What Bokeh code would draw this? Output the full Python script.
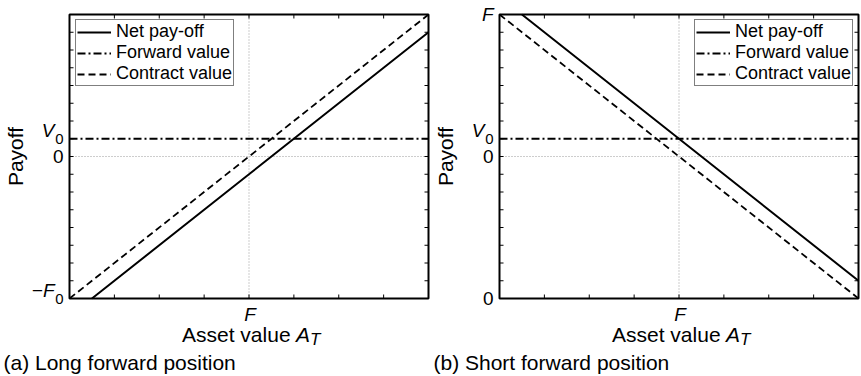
import math
from bokeh.plotting import figure
from bokeh.layouts import row
from bokeh.models import Range1d, Label, Legend, LegendItem
from bokeh.embed import file_html
from bokeh.resources import INLINE

# ---------------- data ----------------
asset_values = [0.0, 4.0, 8.0]          # asset value A_T (F sits at 4)
forward_price = 4.0                     # F on the asset axis
long_contract = [-8.0, 0.0, 8.0]
long_net = [-9.0, -1.0, 7.0]
long_forward = [1.0, 1.0, 1.0]          # V0
short_contract = [8.0, 0.0, -8.0]
short_net = [9.0, 1.0, -7.0]
short_forward = [1.0, 1.0, 1.0]
x_ticks = [0, 1, 2, 3, 4, 5, 6, 7, 8]
y_ticks = list(range(-8, 9))
x_tick_labels = [(4, "F")]
long_y_labels = [(-8, "\u2212F", "0"), (0, "0", ""), (1, "V", "0")]
short_y_labels = [(8, "F", ""), (1, "V", "0"), (0, "0", ""), (-8, "0", "")]
series_names = ["Net pay-off", "Forward value", "Contract value"]
captions = ["(a) Long forward position", "(b) Short forward position"]

FONT = "Liberation Sans"

# plot box inside each panel (pixels) and its data extent
BL, BT, BW, BH = 69, 14, 359, 284
H = 376
X0, X1, Y0, Y1 = 0.0, 8.0, -8.0, 8.0
KX = BW / (X1 - X0)      # pixels per x unit
KY = BH / (Y1 - Y0)      # pixels per y unit
TICK = 4                 # inward tick length, px


def clip_polyline(xs, ys):
    """Clip a polyline to the plot box (Liang-Barsky on each segment)."""
    out_x, out_y = [], []
    for i in range(len(xs) - 1):
        xa, ya, xb, yb = xs[i], ys[i], xs[i + 1], ys[i + 1]
        t0, t1 = 0.0, 1.0
        dx, dy = xb - xa, yb - ya
        ok = True
        for pp, qq in ((-dx, xa - X0), (dx, X1 - xa), (-dy, ya - Y0), (dy, Y1 - ya)):
            if pp == 0:
                if qq < 0:
                    ok = False
            else:
                r = qq / pp
                if pp < 0:
                    t0 = max(t0, r)
                else:
                    t1 = min(t1, r)
        if not ok or t0 > t1:
            continue
        pa = (xa + t0 * dx, ya + t0 * dy)
        pb = (xa + t1 * dx, ya + t1 * dy)
        if not out_x or (out_x[-1], out_y[-1]) != pa:
            out_x.append(pa[0]); out_y.append(pa[1])
        out_x.append(pb[0]); out_y.append(pb[1])
    return out_x, out_y


def make_panel(width, net, fwd, contract, ylabels, legend_right, caption):
    right_px = width - BL - BW
    p = figure(width=width, height=H, output_backend="svg", toolbar_location=None,
               title=None, x_axis_type=None, y_axis_type=None,
               x_range=Range1d(X0 - BL / KX, X1 + right_px / KX),
               y_range=Range1d(Y0 - (H - BT - BH) / KY, Y1 + BT / KY),
               min_border=0, min_border_left=0, min_border_right=0,
               min_border_top=0, min_border_bottom=0)
    p.outline_line_color = None
    p.background_fill_color = "white"
    p.border_fill_color = "white"

    def lab(x, y, text, size, align="left", style="normal", angle=0.0):
        p.add_layout(Label(x=x, y=y, text=text, text_align=align, text_baseline="middle",
                           angle=angle, text_font=FONT, text_font_size=size,
                           text_font_style=style, text_color="black"))

    # reference lines (dotted) at F and at zero payoff
    p.segment(x0=[forward_price], y0=[Y0], x1=[forward_price], y1=[Y1],
              line_color="#9a9a9a", line_width=1, line_dash="1 2")
    p.segment(x0=[X0], y0=[0], x1=[X1], y1=[0],
              line_color="#9a9a9a", line_width=1, line_dash="1 2")

    # series
    nx, ny = clip_polyline(asset_values, net)
    fx, fy = clip_polyline(asset_values, fwd)
    cxs, cys = clip_polyline(asset_values, contract)
    r_net = p.line(nx, ny, line_color="black", line_width=2)
    r_fwd = p.line(fx, fy, line_color="black", line_width=1.8, line_dash="8 3 2 3")
    r_con = p.line(cxs, cys, line_color="black", line_width=1.8, line_dash="7 4")

    # box and inward ticks on all four sides
    tx, ty = TICK / KX, TICK / KY
    p.segment(x0=x_ticks, y0=[Y0] * len(x_ticks), x1=x_ticks, y1=[Y0 + ty] * len(x_ticks),
              line_color="black", line_width=1)
    p.segment(x0=x_ticks, y0=[Y1] * len(x_ticks), x1=x_ticks, y1=[Y1 - ty] * len(x_ticks),
              line_color="black", line_width=1)
    p.segment(x0=[X0] * len(y_ticks), y0=y_ticks, x1=[X0 + tx] * len(y_ticks), y1=y_ticks,
              line_color="black", line_width=1)
    p.segment(x0=[X1] * len(y_ticks), y0=y_ticks, x1=[X1 - tx] * len(y_ticks), y1=y_ticks,
              line_color="black", line_width=1)
    p.quad(left=[X0], right=[X1], bottom=[Y0], top=[Y1], fill_color=None,
           line_color="black", line_width=2)

    # legend (location = bottom-left corner of the box, pixels from canvas bottom-left)
    leg_w, leg_h = 159, 68
    leg_x = (BL + BW - 5 - leg_w) if legend_right else (BL + 6)
    legend = Legend(items=[LegendItem(label=series_names[0], renderers=[r_net]),
                           LegendItem(label=series_names[1], renderers=[r_fwd]),
                           LegendItem(label=series_names[2], renderers=[r_con])],
                    location=(leg_x, H - (BT + 4) - leg_h), margin=0, padding=1, spacing=0,
                    label_height=18, glyph_height=18, glyph_width=34, label_standoff=5,
                    border_line_color="black", border_line_width=1.5,
                    label_text_font=FONT, label_text_font_size="18px",
                    label_text_color="black",
                    background_fill_color="white", background_fill_alpha=1)
    p.add_layout(legend)

    # y tick labels
    for yv, main, sub in ylabels:
        style = "italic" if main != "0" else "normal"
        if sub:
            lab(X0 - 6 / KX, yv, sub, "15px", align="right")
            lab(X0 - 15 / KX, yv + 8 / KY, main, "19px", align="right", style=style)
        else:
            lab(X0 - 6 / KX, yv, main, "19px", align="right", style=style)
    # x tick labels
    for xv, t in x_tick_labels:
        lab(xv + 1 / KX, Y0 - 15.5 / KY, t, "19px", align="center", style="italic")
    # x axis title "Asset value A_T"
    xc = (X0 + X1) / 2
    lab(xc - 67 / KX, Y0 - 36 / KY, "Asset value", "21px")
    lab(xc + 47 / KX, Y0 - 36 / KY, "A", "21px", style="italic")
    lab(xc + 61 / KX, Y0 - 40.5 / KY, "T", "17px", style="italic")
    # y axis title
    lab(X0 - (BL - 15) / KX, (Y0 + Y1) / 2, "Payoff", "21px", align="center",
        angle=math.pi / 2)
    # caption
    lab(X0 - (BL - 3) / KX, Y0 - 63.5 / KY, caption, "21px")
    return p


p1 = make_panel(430, long_net, long_forward, long_contract, long_y_labels, False, captions[0])
p2 = make_panel(431, short_net, short_forward, short_contract, short_y_labels, True, captions[1])

layout = row(p1, p2)
open("out.html", "w").write(file_html(layout, INLINE))
